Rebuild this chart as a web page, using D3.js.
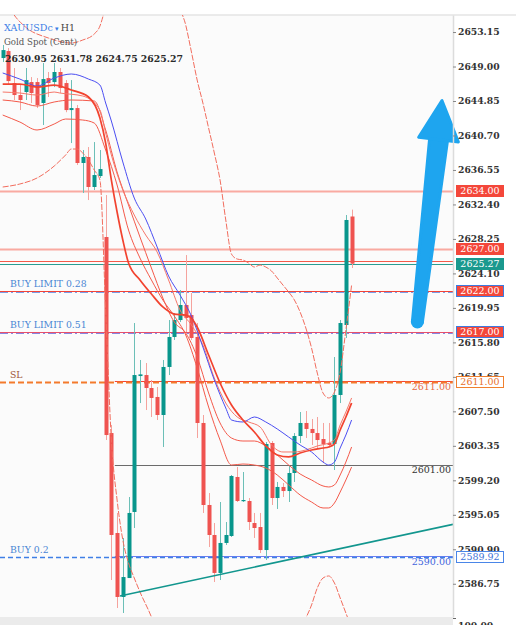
<!DOCTYPE html>
<html>
<head>
<meta charset="utf-8">
<script src="https://cdn.jsdelivr.net/npm/d3@7"></script>
<style>
body { margin:0; background:#fff; overflow:hidden; }
svg { display:block; }
</style>
</head>
<body>
<div id="chart"></div>
<script>
// H1 candles, [open, high, low, close]
var candles = [
  [2650.02, 2651.59, 2649.54, 2650.98], [2650.86, 2651.22, 2646.89, 2647.25],
  [2647.01, 2648.82, 2644.97, 2645.57], [2645.57, 2646.77, 2643.76, 2644.97],
  [2645.93, 2648.82, 2644.97, 2647.37], [2647.13, 2647.73, 2644.61, 2645.81],
  [2647.13, 2647.61, 2644.00, 2644.37], [2644.61, 2649.42, 2641.96, 2647.49],
  [2647.61, 2648.34, 2645.33, 2647.01], [2647.13, 2649.42, 2646.53, 2648.34],
  [2648.34, 2648.82, 2645.81, 2646.41], [2647.01, 2647.37, 2643.50, 2643.76],
  [2643.76, 2647.37, 2639.79, 2644.00], [2644.00, 2644.37, 2637.15, 2637.39],
  [2637.39, 2638.95, 2633.78, 2638.11], [2638.11, 2639.31, 2632.93, 2634.50],
  [2634.50, 2639.91, 2634.14, 2635.94], [2635.82, 2638.95, 2635.58, 2636.66],
  [2628.48, 2633.53, 2604.05, 2604.65], [2604.89, 2605.86, 2587.20, 2592.62],
  [2592.86, 2595.27, 2583.83, 2585.16], [2585.16, 2592.26, 2583.23, 2587.56],
  [2587.44, 2597.19, 2587.44, 2595.27], [2595.39, 2618.13, 2593.46, 2611.87],
  [2611.75, 2613.68, 2608.50, 2611.95], [2611.87, 2613.32, 2607.66, 2610.31],
  [2610.31, 2611.27, 2606.82, 2609.11], [2609.23, 2610.43, 2606.46, 2607.06],
  [2607.06, 2613.68, 2603.21, 2612.84], [2612.84, 2618.49, 2611.87, 2616.45],
  [2616.45, 2619.33, 2616.09, 2618.49], [2618.49, 2622.10, 2618.25, 2620.30],
  [2620.30, 2626.31, 2617.05, 2618.73], [2619.09, 2621.74, 2616.09, 2616.33],
  [2616.45, 2618.13, 2604.29, 2606.10], [2606.10, 2607.06, 2595.27, 2596.23],
  [2596.23, 2597.67, 2591.17, 2592.62], [2592.62, 2594.06, 2586.96, 2588.05],
  [2588.05, 2596.59, 2587.20, 2591.66], [2591.66, 2594.18, 2591.42, 2592.62],
  [2592.50, 2599.84, 2592.38, 2599.72], [2599.60, 2600.80, 2596.59, 2596.71],
  [2596.71, 2600.20, 2596.59, 2596.83], [2596.71, 2597.07, 2593.22, 2594.18],
  [2594.06, 2595.27, 2592.26, 2593.46], [2593.58, 2595.27, 2590.45, 2590.81],
  [2590.81, 2603.81, 2589.61, 2603.57], [2603.69, 2603.93, 2596.23, 2597.07],
  [2597.07, 2599.00, 2595.75, 2598.40], [2598.40, 2598.88, 2597.19, 2597.91],
  [2597.91, 2601.04, 2596.59, 2600.08], [2600.08, 2604.89, 2599.00, 2604.53],
  [2604.53, 2607.42, 2603.69, 2606.10], [2606.10, 2607.54, 2604.29, 2605.38],
  [2605.38, 2606.58, 2603.45, 2604.89], [2604.89, 2606.82, 2603.09, 2604.05],
  [2604.17, 2606.10, 2601.28, 2603.57], [2603.69, 2606.10, 2603.33, 2603.45],
  [2603.57, 2614.04, 2600.44, 2609.47], [2609.47, 2618.49, 2608.50, 2618.13],
  [2617.89, 2631.13, 2616.33, 2630.53], [2630.95, 2631.78, 2624.75, 2625.27]
];

var priceTicks = [2653.15, 2649.00, 2644.85, 2640.70, 2636.55, 2632.40, 2628.25, 2624.10,
  2619.95, 2615.80, 2611.65, 2607.50, 2603.35, 2599.20, 2595.05, 2590.90, 2586.75];

// indicator lines, [candle index, price]
var blueMA = [[0,2648.22],[3,2647.49],[6,2646.65],[9,2647.61],[12,2648.10],[15,2647.49],[17,2646.77],
  [18,2644.61],[19,2642.44],[21,2637.51],[23,2633.17],[25,2630.65],[27,2627.28],[29,2623.79],[31,2621.50],
  [33,2618.97],[35,2615.24],[37,2611.27],[39,2607.90],[40,2606.46],[42,2606.22],[44,2606.82],[46,2606.22],
  [48,2605.38],[50,2604.41],[52,2603.45],[54,2602.61],[56,2601.40],[57,2601.04],[58,2601.40],[59,2603.09],
  [60,2604.65],[61,2606.46]];

var redFast = [[0,2646.89],[3,2646.89],[6,2646.53],[9,2646.77],[12,2646.17],[15,2645.33],[17,2642.80],
  [18,2639.79],[19,2635.34],[20,2631.49],[21,2628.12],[22,2625.35],[24,2623.31],[26,2621.62],[28,2620.06],
  [30,2619.21],[32,2619.09],[33,2618.73],[34,2617.65],[36,2614.28],[38,2610.91],[40,2608.26],[42,2606.46],
  [44,2605.02],[46,2603.33],[48,2602.25],[50,2602.01],[52,2602.49],[54,2602.85],[56,2603.09],[57,2603.21],
  [58,2603.57],[59,2605.26],[60,2606.82],[61,2608.50]];

var redUpper = [[0,2645.93],[3,2645.81],[6,2645.57],[9,2645.93],[10,2645.81],[14,2645.45],[17,2643.76],
  [18,2641.00],[19,2638.35],[21,2634.14],[23,2631.13],[25,2628.72],[27,2626.68],[29,2623.31],[31,2619.70],
  [33,2617.89],[35,2615.48],[37,2611.51],[39,2608.50],[41,2606.82],[43,2606.22],[45,2605.62],[47,2603.45],
  [49,2602.61],[51,2602.61],[53,2602.85],[55,2603.33],[57,2603.69],[58,2604.05],[59,2605.86],[60,2607.42],
  [61,2609.11]];

var redLower1 = [[0,2644.97],[3,2644.73],[6,2644.24],[9,2644.73],[12,2644.97],[16,2644.85],[18,2641.36],
  [20,2636.30],[22,2632.33],[24,2628.48],[26,2624.75],[28,2621.14],[30,2618.25],[32,2616.93],[34,2614.04],
  [36,2609.71],[38,2606.10],[40,2604.29],[42,2603.93],[44,2603.93],[46,2603.33],[48,2602.25],[50,2601.04],
  [52,2599.96],[54,2599.24],[56,2598.52],[57,2598.40],[58,2598.64],[59,2599.84],[60,2601.40],[61,2603.21]];

var redLower2 = [[0,2643.16],[3,2642.32],[6,2641.36],[9,2642.08],[11,2642.68],[14,2642.56],[16,2642.20],
  [18,2638.95],[20,2634.74],[22,2629.32],[24,2625.95],[26,2623.31],[28,2620.90],[30,2618.97],[32,2616.69],
  [34,2612.72],[36,2608.02],[38,2604.05],[40,2601.04],[42,2601.16],[44,2601.04],[46,2600.68],[48,2599.84],
  [50,2598.64],[52,2597.43],[54,2596.59],[56,2595.87],[57,2595.87],[58,2596.47],[59,2597.79],[60,2599.24],
  [61,2600.80]];

var bandUp = [[0,2657.60],[2,2655.20],[4,2653.75],[8,2652.43],[12,2651.83],[14,2652.19],[16,2652.91],
  [17,2653.87],[18,2656.40],[19,2660.01],[21,2666.63],[25,2671.44],[29,2666.63],[30,2661.81],[31,2656.40],
  [32,2653.99],[33,2650.74],[34,2647.37],[35,2644.61],[36,2641.60],[37,2638.59],[38,2635.34],[39,2630.53],
  [40,2626.43],[41,2625.83],[42,2625.71],[43,2625.35],[44,2624.87],[45,2625.11],[46,2624.87],[47,2624.39],
  [48,2623.55],[49,2622.70],[50,2621.86],[51,2620.90],[52,2619.45],[53,2617.53],[54,2615.12],[55,2612.11],
  [56,2609.71],[57,2609.11],[58,2609.83],[59,2612.23],[60,2617.29],[61,2622.70]];

var bandLow = [[0,2634.50],[3,2634.86],[6,2635.58],[9,2637.02],[11,2638.35],[12,2639.07],[13,2639.07],
  [14,2638.59],[15,2637.75],[16,2636.54],[17,2635.34],[18,2619.70],[19,2604.05],[20,2596.83],[21,2592.02],
  [22,2589.25],[23,2587.44],[24,2585.76],[26,2582.75],[28,2578.78],[32,2572.76],[40,2570.36],[48,2573.97],
  [52,2581.19],[54,2584.20],[55,2586.24],[56,2587.44],[57,2587.69],[58,2586.84],[59,2585.04],[60,2583.23],
  [61,2581.43]];

// objects on the chart
var trendPoints = [[20.5, 2585.28], [60, 2591.13]];
var arrowBase = [72.5, 2618.25], arrowNeck = [76.2, 2640.2], arrowTip = [76.8, 2644.9];
var orderStart = 19.6;
var orderLabels = ["BUY LIMIT 0.28", "BUY LIMIT 0.51", "SL", "BUY 0.2"];
var orderPrices = [2622.00, 2617.00, 2611.00, 2589.92];
var rightLabels = ["2611.00", "2601.00", "2590.00"];
var rightPrices = [2611.00, 2601.00, 2590.00];
var tagPrices = [2634.00, 2627.00, 2625.27, 2622.00, 2617.00, 2611.00, 2589.92];
var tagKinds = ["red", "red", "bid", "limit", "limit", "sl", "buy"];
var ohlc = ["2630.95", "2631.78", "2624.75", "2625.27"];

function chart() {
  var width = 516, height = 625,
      plot = {left: 0, right: 453, top: 15, bottom: 617};
  var up = "#08968c", down = "#ef5350";
  var serif = "'DejaVu Serif', serif";

  var svg = d3.select("#chart").append("svg")
      .attr("width", width)
      .attr("height", height);

  svg.append("rect").attr("width", width).attr("height", height).attr("fill", "#ffffff");
  svg.append("rect")
      .attr("x", plot.left).attr("y", plot.top)
      .attr("width", plot.right - plot.left).attr("height", plot.bottom - plot.top)
      .attr("fill", "#fbfbfb");
  svg.append("line").attr("x1", 0).attr("x2", width).attr("y1", plot.top).attr("y2", plot.top)
      .attr("stroke", "#e4e4e4").attr("stroke-width", 1.5);

  svg.append("defs").append("clipPath").attr("id", "clip")
      .append("rect")
      .attr("x", plot.left).attr("y", plot.top)
      .attr("width", plot.right - plot.left).attr("height", plot.bottom - plot.top);

  var x = d3.scaleLinear().domain([0, candles.length - 1]).range([2.7, 351.6]);
  var y = d3.scaleLinear().domain([2582.75, 2655.2]).range([plot.bottom, plot.top]);

  var g = svg.append("g").attr("clip-path", "url(#clip)");

  function hline(p, x0, color, w, dash, shift) {
    var yy = Math.round(y(p)) + 0.5 + (shift || 0);
    g.append("line")
        .attr("x1", x0).attr("x2", plot.right)
        .attr("y1", yy).attr("y2", yy)
        .attr("stroke", color).attr("stroke-width", w)
        .attr("stroke-dasharray", dash || null);
  }

  // price levels
  hline(2634.00, 0, "#f9aaa1", 2);
  hline(2627.00, 0, "#f9aaa1", 2);
  hline(2625.63, 0, "#f45a4a", 1);
  hline(2625.27, 0, "#2a9d92", 1);
  hline(2622.00, 0, "#f44336", 1.2);
  hline(2622.00, 0, "#7c9ce6", 1, "8,3,2,3", 1);
  hline(2617.00, 0, "#e8506a", 1.2);
  hline(2617.00, 0, "#8a86e0", 1, "8,3,2,3", 1);
  hline(2611.20, x(orderStart), "#f44336", 1);
  hline(2611.00, 0, "#f47a2c", 2, "6,3");
  hline(2601.00, x(orderStart), "#6b6b6b", 1.2);
  hline(2590.10, x(orderStart), "#6f7ff0", 1);
  hline(2589.92, 0, "#3f7fe6", 1.5, "5,3");

  // candles
  var c = g.append("g").selectAll("g")
      .data(candles)
      .enter()
      .append("g");
  c.append("line")
      .attr("x1", function(d, i){ return Math.round(x(i)) + 0.5; })
      .attr("x2", function(d, i){ return Math.round(x(i)) + 0.5; })
      .attr("y1", function(d){ return y(d[1]); })
      .attr("y2", function(d){ return y(d[2]); })
      .attr("stroke", function(d){ return d[3] >= d[0] ? "#6cbfb7" : "#f5a39d"; })
      .attr("stroke-width", 1);
  c.append("rect")
      .attr("x", function(d, i){ return Math.round(x(i)) - 1.5; })
      .attr("width", 4)
      .attr("y", function(d){ return y(Math.max(d[0], d[3])); })
      .attr("height", function(d){ return Math.max(1.2, Math.abs(y(d[0]) - y(d[3]))); })
      .attr("fill", function(d){ return d[3] >= d[0] ? up : down; });

  // indicators
  var line = d3.line()
      .x(function(d){ return x(d[0]); })
      .y(function(d){ return y(d[1]); })
      .curve(d3.curveMonotoneX);
  function path(data, color, w, dash) {
    g.append("path")
        .attr("d", line(data))
        .attr("fill", "none")
        .attr("stroke", color)
        .attr("stroke-width", w)
        .attr("stroke-dasharray", dash || null);
  }
  path(bandUp, "#f26d5e", 1, "6,1.5");
  path(bandLow, "#f26d5e", 1, "6,1.5");
  path(redLower2, "#f4594a", 1);
  path(redLower1, "#f4594a", 1);
  path(redUpper, "#f6776a", 1);
  path(blueMA, "#4b4ef2", 1);
  path(redFast, "#f2432f", 1.7);

  // trend line extended to the right edge
  var slope = (trendPoints[1][1] - trendPoints[0][1]) / (trendPoints[1][0] - trendPoints[0][0]);
  var edge = x.invert(plot.right);
  g.append("line")
      .attr("x1", x(trendPoints[0][0])).attr("y1", y(trendPoints[0][1]))
      .attr("x2", x(edge)).attr("y2", y(trendPoints[0][1] + slope * (edge - trendPoints[0][0])))
      .attr("stroke", "#12968e").attr("stroke-width", 1.6);

  // left order labels
  orderLabels.forEach(function(t, i){
    svg.append("text")
        .attr("x", 10).attr("y", y(orderPrices[i]) - 6.5)
        .attr("dominant-baseline", "middle")
        .style("font-family", serif).style("font-size", "9.3px")
        .attr("fill", t == "SL" ? "#a0553a" : "#4a86d4")
        .text(t);
  });
  var rightColors = ["#e86a45", "#333333", "#4466dd"];
  rightLabels.forEach(function(t, i){
    svg.append("text")
        .attr("x", 451).attr("y", y(rightPrices[i]) + 5.5)
        .attr("text-anchor", "end").attr("dominant-baseline", "middle")
        .style("font-family", serif).style("font-size", "9.5px")
        .attr("fill", rightColors[i])
        .text(t);
  });

  // blue arrow
  var b = [x(arrowBase[0]), y(arrowBase[1])],
      n = [x(arrowNeck[0]), y(arrowNeck[1])],
      t = [x(arrowTip[0]), y(arrowTip[1])];
  var dx = n[0] - b[0], dy = n[1] - b[1], len = Math.sqrt(dx * dx + dy * dy);
  var nx = -dy / len, ny = dx / len;
  var arrow = svg.append("g").attr("fill", "#1ea5ef").attr("stroke", "#1ea5ef")
      .attr("stroke-linejoin", "round").attr("stroke-width", 3);
  arrow.append("polygon").attr("points", [
      [b[0] + nx * 5, b[1] + ny * 5], [n[0] + nx * 9, n[1] + ny * 9],
      [n[0] - nx * 9, n[1] - ny * 9], [b[0] - nx * 5, b[1] - ny * 5]].join(" "));
  arrow.append("circle").attr("cx", b[0]).attr("cy", b[1]).attr("r", 6.5).attr("stroke", "none");
  arrow.append("polygon").attr("points", [
      [n[0] + nx * 20, n[1] + ny * 20], t, [n[0] - nx * 20, n[1] - ny * 20]].join(" "));

  // right price axis
  var axis = svg.append("g")
      .attr("transform", "translate(" + plot.right + ",0)")
      .call(d3.axisRight(y).tickValues(priceTicks).tickSize(3).tickSizeOuter(0).tickPadding(2)
          .tickFormat(d3.format(".2f")));
  axis.select(".domain").attr("stroke", "#dcdcdc").attr("stroke-width", 1.5);
  axis.selectAll(".tick line").attr("stroke", "#888");
  axis.selectAll(".tick text")
      .style("font-family", serif).style("font-size", "9.2px").style("font-weight", "bold")
      .attr("fill", "#333");

  // price tags
  var tagStyle = {
    red:   {fill: "#f4473a", stroke: "#f4473a", text: "#ffffff"},
    bid:   {fill: "#1a998e", stroke: "#1a998e", text: "#ffffff"},
    limit: {fill: "#f4473a", stroke: "#3d7be0", text: "#ffffff"},
    sl:    {fill: "#ffffff", stroke: "#f0802e", text: "#e8702a"},
    buy:   {fill: "#ffffff", stroke: "#4a86e8", text: "#3f74d8"}
  };
  tagPrices.forEach(function(p, i){
    var s = tagStyle[tagKinds[i]];
    var tg = svg.append("g").attr("transform", "translate(456," + Math.round(y(p)) + ")");
    tg.append("rect").attr("x", 0.5).attr("y", -5.5).attr("width", 47).attr("height", 11)
        .attr("fill", s.fill).attr("stroke", s.stroke).attr("stroke-width", 1);
    tg.append("text").attr("x", 24).attr("y", 0.5)
        .attr("text-anchor", "middle").attr("dominant-baseline", "middle")
        .style("font-family", serif).style("font-size", "9.5px")
        .attr("fill", s.text).text(p.toFixed(2));
  });

  // bottom indicator window edge
  svg.append("rect").attr("x", 0).attr("y", plot.bottom).attr("width", plot.right).attr("height", height - plot.bottom)
      .attr("fill", "#ebebeb");
  svg.append("line").attr("x1", plot.right).attr("x2", plot.right + 3)
      .attr("y1", plot.bottom + 1.5).attr("y2", plot.bottom + 1.5).attr("stroke", "#666");
  svg.append("text").attr("x", 458).attr("y", 629)
      .style("font-family", serif).style("font-size", "9.2px").style("font-weight", "bold")
      .attr("fill", "#333").text("100.00");

  // header
  var h = svg.append("text").attr("x", 4).attr("y", 31)
      .style("font-family", serif).style("font-size", "9.5px");
  h.append("tspan").attr("fill", "#3a7ee6").text("XAUUSDc");
  h.append("tspan").attr("fill", "#3a7ee6").style("font-size", "7px").text(" \u25BE ");
  h.append("tspan").attr("fill", "#444").text("H1");
  svg.append("text").attr("x", 4).attr("y", 45)
      .style("font-family", serif).style("font-size", "8.6px")
      .attr("fill", "#555").text("Gold Spot (Cent)");
  svg.append("text").attr("x", 5).attr("y", 62)
      .style("font-family", serif).style("font-size", "9.3px").style("font-weight", "bold")
      .attr("fill", "#2a2a2a").text(ohlc.join(" "));

  return svg;
}

chart();
</script>
</body>
</html>
